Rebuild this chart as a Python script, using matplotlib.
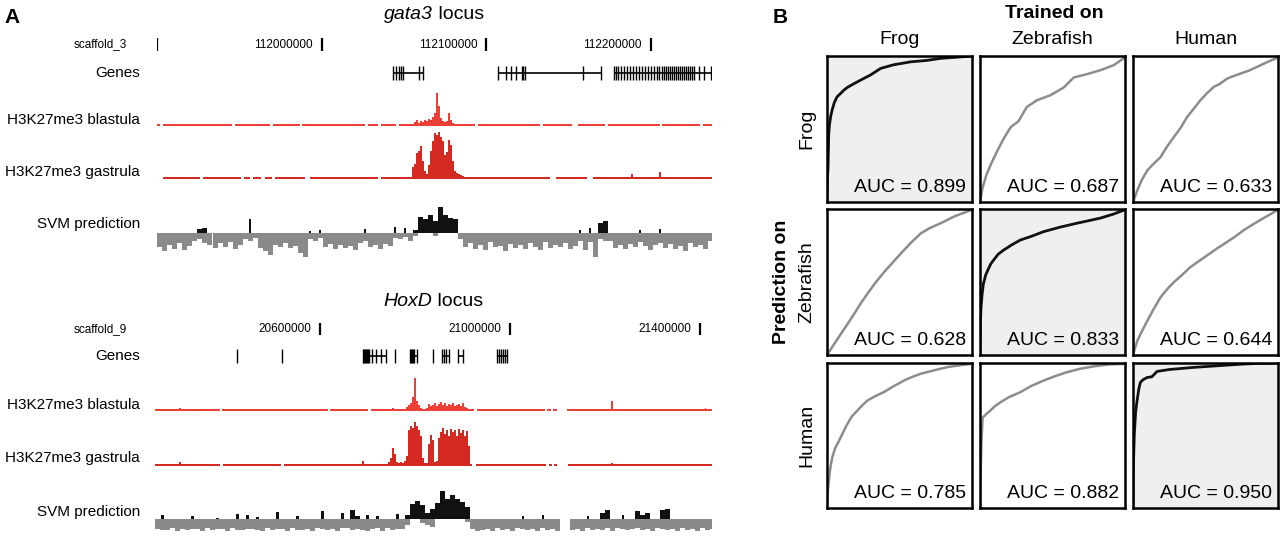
import numpy as np
import matplotlib
matplotlib.use('Agg')
import matplotlib.pyplot as plt

plt.rcParams['font.family'] = ['Liberation Sans', 'DejaVu Sans']

# ---------------- panel A data (positions in kb) ----------------
gata3_lim = (111899.7, 112237.1)
gata3_ticks = [111900, 112000, 112100, 112200]
gata3_tick_labels = ['', '112000000', '112100000', '112200000']

gata3_gene_starts = [112042.9, 112107.3, 112177.5]
gata3_gene_ends = [112061.2, 112169.8, 112236.5]
gata3_exons = [
    [112042.9, 112044.7, 112046.8, 112048.0, 112049.2, 112059.0, 112061.2],
    [112107.3, 112111.6, 112114.9, 112118.2, 112121.5, 112122.5, 112123.7,
     112158.7, 112169.8],
    [112177.5, 112178.8, 112180.0, 112181.8, 112183.6, 112185.4, 112187.3,
     112189.1, 112190.9, 112192.7, 112194.6, 112196.4, 112198.2, 112200.0,
     112201.9, 112203.7, 112204.9, 112206.7, 112207.9, 112209.2, 112210.4,
     112211.6, 112212.8, 112214.0, 112215.2, 112216.4, 112217.7, 112218.9,
     112220.1, 112221.3, 112222.5, 112223.7, 112225.0, 112226.2, 112229.2,
     112232.3, 112236.5],
]

gata3_blast_gaps = [(111901.5, 111903.3), (111945.3, 111947.1), (111968.4, 111970.2),
                    (111986.6, 111987.8), (112026.1, 112028.0), (112034.0, 112035.9),
                    (112045.0, 112046.8), (112093.0, 112094.8), (112132.5, 112134.4),
                    (112152.0, 112155.6), (112172.1, 112173.9), (112205.5, 112206.7),
                    (112229.8, 112231.6)]
gata3_blast_peak_start = 112053.5
gata3_blast_peak_step = 1.216
gata3_blast_peak = [2, 2, 4, 6, 3, 5, 4, 6, 5, 7, 6, 9, 13, 33, 20, 8, 5, 4, 5,
                    13, 6, 3, 2, 2, 2]
gata3_blast_spikes = []

gata3_gast_gaps = [(111899.7, 111903.3), (111925.8, 111927.6), (111950.8, 111952.6),
                   (111956.2, 111958.0), (111962.9, 111965.3), (111969.6, 111971.4),
                   (111989.7, 111992.7), (112034.0, 112035.9), (112138.6, 112142.3),
                   (112161.1, 112164.8)]
gata3_gast_peak_start = 112053.5
gata3_gast_peak_step = 1.216
gata3_gast_peak = [2, 12, 15, 26, 28, 33, 18, 8, 5, 14, 28, 38, 46, 44, 47, 42, 38,
                   24, 27, 39, 34, 18, 8, 6, 5, 4, 3, 2]
gata3_gast_spikes = [(112188.5, 5), (112205.5, 7)]

gata3_svm_start = 111900.0
gata3_svm_step = 3.04
gata3_svm_neg = [-14, -18, -12, -16, -10, -17, -13, -8, -6, -10,
                 -12, -15, -10, -14, -9, -16, -12, -6, -8, -5,
                 -15, -18, -22, -12, -14, -10, -15, -13, -20, -24,
                 -6, -8, -5, -14, -11, -16, -12, -15, -13, -17,
                 -10, -8, -14, -12, -16, -11, -13, -5, -6, -4,
                 -8, -3, 0, 0, 0, -3, 0, 0, 0, 0,
                 -6, -14, -10, -16, -12, -17, -9, -14, -13, -18,
                 -11, -15, -12, -16, -10, -14, -17, -9, -15, -12,
                 -14, -10, -16, -13, -8, -17, -9, -24, -6, -8,
                 -8, -15, -12, -16, -11, -14, -9, -13, -17, -12,
                 -10, -15, -11, -16, -13, -18, -10, -14, -12, -16,
                 -8]
gata3_svm_pos_bins = [8, 9, 18, 30, 32, 41, 47, 49, 51, 52, 53, 54, 55, 56, 57,
                      58, 59, 84, 86, 88, 89, 96, 100]
gata3_svm_pos = [4, 5, 14, 2, 3, 4, 6, 5, 3, 16, 14, 18, 12, 26, 18, 15, 14, 3, 5,
                 10, 12, 3, 4]

hoxd_lim = (20252.7, 21425.3)
hoxd_ticks = [20600, 21000, 21400]
hoxd_tick_labels = ['20600000', '21000000', '21400000']

hoxd_gene_starts = [20424.6, 20519.8, 20691.2, 20757.9, 20789.5, 20837.9, 20856.9,
                    20890.5, 20972.6]
hoxd_gene_ends = [20424.6, 20519.8, 20740.0, 20757.9, 20804.2, 20837.9, 20871.6,
                  20901.1, 20993.7]
hoxd_exons = [
    [20424.6],
    [20519.8],
    [20691.2, 20693.0, 20695.0, 20697.0, 20699.0, 20701.0, 20703.2, 20709.5,
     20719.0, 20728.5, 20740.0],
    [20757.9],
    [20789.5, 20791.6, 20793.7, 20795.8, 20797.9, 20804.2],
    [20837.9],
    [20856.9, 20861.0, 20865.3, 20871.6],
    [20890.5, 20901.1],
    [20972.6, 20976.8, 20981.1, 20985.3, 20989.5, 20993.7],
]

hoxd_blast_gaps = [(20389.5, 20393.8), (20616.9, 20621.1), (20701.1, 20707.4),
                   (20924.2, 20930.5), (21073.7, 21077.9), (21086.3, 21090.5),
                   (21098.9, 21120.0)]
hoxd_blast_peak_start = 20776.9
hoxd_blast_peak_step = 4.21
hoxd_blast_peak = [2, 4, 6, 8, 14, 33, 10, 6, 3, 2, 2, 3, 7, 5, 6, 8, 5, 7, 9, 6,
                   8, 5, 7, 6, 8, 5, 6, 7, 5, 8, 4, 3, 2, 2]
hoxd_blast_spikes = [(20305.5, 3), (20753.7, 3), (21214.7, 10), (21412.0, 3)]

hoxd_gast_gaps = [(20389.5, 20395.9), (20517.9, 20524.3), (20920.0, 20928.4),
                  (21075.8, 21082.1), (21088.4, 21092.6), (21098.9, 21122.1)]
hoxd_gast_peak_start = 20739.0
hoxd_gast_peak_step = 4.21
hoxd_gast_peak = [2, 4, 8, 18, 12, 4, 3, 4, 3, 5, 10, 36, 40, 38, 44, 40, 36, 30, 8,
                  3, 3, 22, 31, 26, 4, 5, 28, 34, 38, 32, 36, 30, 37, 34, 36, 30,
                  37, 33, 36, 30, 35, 20, 2]
hoxd_gast_spikes = [(20305.5, 4), (20690.0, 5), (21214.7, 3)]

hoxd_svm_start = 20252.7
hoxd_svm_step = 10.53
nan = np.nan
hoxd_svm_neg = [-10, -11, -11, -9, -12, -10, -11, -10, -10, -12,
                -9, -11, -10, -10, -12, -9, -11, -11, -10, -10,
                -11, -12, -9, -11, -10, -10, -12, -9, -11, -11,
                -10, -12, -9, -10, -11, -10, -12, -9, -9, -11,
                -10, -11, -12, -10, -9, -12, -9, -11, -10, -10,
                -6, 0, 0, -4, -6, -8, 0, 0, 0, 0,
                0, 0, -3, -10, -12, -11, -10, -12, -9, -11,
                -10, -12, -9, -10, -11, -10, -12, -9, -11, -10,
                -12, nan, nan, -11, -10, -12, -9, -11, -10, -11,
                -9, -12, -9, -10, -11, -10, -9, -11, -10, -12,
                -9, -10, -11, -10, -12, -9, -11, -10, -12, -9,
                -11, -10]
hoxd_svm_pos_bins = [1, 7, 12, 16, 18, 20, 24, 28, 33, 37, 39, 40, 42, 44, 48, 50,
                     51, 52, 53, 54, 55, 56, 57, 58, 59, 60, 61, 62, 73, 77, 86,
                     89, 90, 93, 96, 97, 98, 101, 102]
hoxd_svm_pos = [4, 3, 1, 5, 4, 2, 7, 3, 8, 6, 9, 3, 4, 3, 5, 4, 15, 18, 14, 6, 10,
                16, 28, 20, 24, 20, 17, 12, 3, 4, 3, 6, 9, 4, 8, 4, 6, 9, 10]

# ---------------- panel B data ----------------
species = ['Frog', 'Zebrafish', 'Human']
auc = [[0.899, 0.687, 0.633],
       [0.628, 0.833, 0.644],
       [0.785, 0.882, 0.950]]
# rows: predicted on, cols: trained on
roc_fpr = [
    [[0, .003, .007, .012, .018, .026, .035, .05, .069, .09, .115, .139, .185, .23,
      .30, .37, .46, .577, .69, .785, .9, 1],
     [0, .018, .046, .081, .12, .162, .212, .266, .323, .393, .485, .577, .647,
      .739, .831, .924, 1],
     [0, .028, .06, .097, .14, .189, .235, .281, .33, .373, .42, .465, .51, .558,
      .6, .65, .7, .742, .8, .857, .93, 1]],
    [[0, .046, .092, .14, .185, .23, .277, .33, .393, .45, .508, .58, .647, .71,
      .785, .88, 1],
     [0, .002, .007, .015, .023, .04, .058, .075, .092, .125, .162, .22, .277,
      .36, .439, .55, .67, .75, .831, .92, 1],
     [0, .028, .06, .097, .14, .189, .235, .281, .34, .396, .45, .512, .58, .65,
      .71, .765, .82, .88, .94, 1]],
    [[0, .004, .012, .022, .035, .055, .081, .11, .139, .17, .208, .24, .277,
      .33, .393, .46, .531, .59, .647, .74, .831, .92, 1],
     [0, .002, .005, .01, .018, .04, .069, .1, .139, .2, .277, .35, .439, .52,
      .6, .69, .785, .89, 1],
     [0, .003, .009, .018, .028, .04, .051, .07, .097, .13, .166, .25, .33, .42,
      .6, .765, .88, 1]],
]
roc_tpr = [
    [[0, .15, .237, .467, .536, .59, .628, .68, .72, .74, .765, .784, .81, .834,
      .87, .915, .94, .96, .97, .984, .992, 1],
     [0, .099, .191, .271, .352, .432, .513, .554, .651, .697, .731, .784, .853,
      .876, .903, .938, .99],
     [0, .076, .15, .214, .26, .306, .38, .444, .51, .582, .64, .697, .745, .789,
      .81, .846, .865, .88, .9, .926, .96, .99]],
    [[0, .07, .139, .21, .278, .35, .417, .49, .567, .63, .694, .77, .833, .87,
      .903, .95, .995],
     [0, .2, .324, .42, .486, .55, .59, .625, .648, .69, .718, .755, .787, .815,
      .845, .875, .903, .92, .938, .965, .995],
     [0, .093, .16, .231, .31, .394, .45, .498, .55, .602, .64, .683, .73, .775,
      .815, .856, .89, .926, .96, .995]],
    [[0, .1, .181, .27, .344, .41, .46, .52, .577, .63, .67, .705, .74, .77, .8,
      .84, .879, .905, .926, .95, .972, .985, .995],
     [0, .15, .274, .45, .623, .645, .67, .7, .728, .765, .798, .84, .879, .91,
      .937, .96, .977, .99, .995],
     [0, .3, .507, .66, .74, .82, .867, .885, .9, .905, .942, .955, .962, .97,
      .982, .993, .998, 1]],
]

W, H = 1280, 546
fig = plt.figure(figsize=(W / 100, H / 100), dpi=100)


def px_axes(x0, y0, x1, y1):
    return fig.add_axes([x0 / W, 1 - y1 / H, (x1 - x0) / W, (y1 - y0) / H])


def ftext(x, y, s, **kw):
    return fig.text(x / W, 1 - y / H, s, **kw)


def title_text(xc, y, italic, rest, fs):
    # italic gene name followed by plain text, centred as one string
    r = fig.canvas.get_renderer()
    t1 = ftext(0, y, italic, fontsize=fs, style='italic', va='baseline')
    t2 = ftext(0, y, rest, fontsize=fs, va='baseline')
    w1 = t1.get_window_extent(r).width
    w2 = t2.get_window_extent(r).width
    x0 = xc - (w1 + w2) / 2
    t1.set_x(x0 / W)
    t2.set_x((x0 + w1) / W)


def covered(lo, hi, gaps):
    segs = []
    cur = lo
    for a, b in sorted(gaps):
        if a > cur:
            segs.append((cur, a - cur))
        cur = max(cur, b)
    if cur < hi:
        segs.append((cur, hi - cur))
    return segs


def ruler(ax, lim, ticks, labels, fs):
    ax.vlines(ticks, 0, 1, color='black', lw=1.6)
    for t, lab in zip(ticks, labels):
        if lab:
            ax.annotate(lab, (t, 0.5), xytext=(-9, 0), textcoords='offset pixels',
                        ha='right', va='center', fontsize=fs)
    ax.set_xlim(lim)
    ax.set_ylim(0, 1)
    ax.axis('off')


def gene_track(ax, lim, starts, ends, exons, lw):
    ax.hlines([0] * len(starts), starts, ends, color='black', lw=1.2)
    for ex in exons:
        ax.vlines(ex, -1, 1, color='black', lw=lw)
    ax.set_xlim(lim)
    ax.set_ylim(-1.1, 1.1)
    ax.axis('off')


def signal_track(ax, lim, gaps, pk_start, pk_step, pk_vals, spikes, color, top):
    ax.broken_barh(covered(lim[0], lim[1], gaps), (0, 2.0), facecolors=color, lw=0)
    xs = pk_start + pk_step * np.arange(len(pk_vals))
    ax.bar(xs, pk_vals, width=pk_step, align='edge', color=color, lw=0)
    if spikes:
        ax.bar([s[0] for s in spikes], [s[1] for s in spikes], width=pk_step * 0.8,
               color=color, lw=0)
    ax.set_xlim(lim)
    ax.set_ylim(0, top)
    ax.axis('off')


def svm_track(ax, lim, start, step, neg, pos_bins, pos, lo, hi):
    neg = np.array(neg, dtype=float)
    xs = start + step * np.arange(len(neg))
    ok = ~np.isnan(neg)
    ax.bar(xs[ok], neg[ok], width=step, align='edge', color='#8a8a8a', lw=0)
    pb = set(pos_bins)
    for b, h in zip(pos_bins, pos):
        lone = (b - 1 not in pb) and (b + 1 not in pb)
        w = step * 0.45 if lone else step
        ax.bar(start + step * (b + 0.5), h, width=w, color='#111111', lw=0)
    ax.set_xlim(lim)
    ax.set_ylim(lo, hi)
    ax.axis('off')


blast_red = '#ec4036'
gast_red = '#d42a22'

# ---- gata3 locus ----
ftext(4, 23, 'A', fontsize=15, fontweight='bold', va='baseline')
title_text(434, 19, 'gata3', ' locus', 14)
ftext(127, 44, 'scaffold_3', fontsize=8.5, ha='right', va='center')
ruler(px_axes(157, 38, 712, 51), gata3_lim, gata3_ticks, gata3_tick_labels, 8.5)
ftext(140, 73, 'Genes', fontsize=11, ha='right', va='center')
gene_track(px_axes(157, 65, 712, 81), gata3_lim, gata3_gene_starts, gata3_gene_ends,
           gata3_exons, 1.0)
ftext(140, 120, 'H3K27me3 blastula', fontsize=11, ha='right', va='center')
signal_track(px_axes(157, 90, 712, 126), gata3_lim, gata3_blast_gaps,
             gata3_blast_peak_start, gata3_blast_peak_step, gata3_blast_peak,
             gata3_blast_spikes, blast_red, 36)
ftext(140, 172, 'H3K27me3 gastrula', fontsize=11, ha='right', va='center')
signal_track(px_axes(157, 128, 712, 179), gata3_lim, gata3_gast_gaps,
             gata3_gast_peak_start, gata3_gast_peak_step, gata3_gast_peak,
             gata3_gast_spikes, gast_red, 51)
ftext(140, 224, 'SVM prediction', fontsize=11, ha='right', va='center')
svm_track(px_axes(157, 205, 712, 260), gata3_lim, gata3_svm_start, gata3_svm_step,
          gata3_svm_neg, gata3_svm_pos_bins, gata3_svm_pos, -27, 28)

# ---- HoxD locus ----
title_text(433, 306, 'HoxD', ' locus', 14)
ftext(127, 329, 'scaffold_9', fontsize=8.5, ha='right', va='center')
ruler(px_axes(155, 323, 712, 335), hoxd_lim, hoxd_ticks, hoxd_tick_labels, 8.5)
ftext(140, 356, 'Genes', fontsize=11, ha='right', va='center')
gene_track(px_axes(155, 348, 712, 364), hoxd_lim, hoxd_gene_starts, hoxd_gene_ends,
           hoxd_exons, 1.0)
ftext(140, 405, 'H3K27me3 blastula', fontsize=11, ha='right', va='center')
signal_track(px_axes(155, 373, 712, 411), hoxd_lim, hoxd_blast_gaps,
             hoxd_blast_peak_start, hoxd_blast_peak_step, hoxd_blast_peak,
             hoxd_blast_spikes, blast_red, 38)
ftext(140, 458, 'H3K27me3 gastrula', fontsize=11, ha='right', va='center')
signal_track(px_axes(155, 417, 712, 466), hoxd_lim, hoxd_gast_gaps,
             hoxd_gast_peak_start, hoxd_gast_peak_step, hoxd_gast_peak,
             hoxd_gast_spikes, gast_red, 49)
ftext(140, 512, 'SVM prediction', fontsize=11, ha='right', va='center')
svm_track(px_axes(155, 486, 712, 535), hoxd_lim, hoxd_svm_start, hoxd_svm_step,
          hoxd_svm_neg, hoxd_svm_pos_bins, hoxd_svm_pos, -16, 33)

# ---------------- panel B ----------------
col_x = [(827, 972), (980, 1125), (1133, 1278)]
row_y = [(56, 202), (209, 355), (363, 508)]

ftext(773, 23, 'B', fontsize=15, fontweight='bold', va='baseline')
ftext(1054, 13, 'Trained on', fontsize=14, fontweight='bold', ha='center', va='center')
ftext(782, 282, 'Prediction on', fontsize=14, fontweight='bold', rotation=90,
      ha='center', va='center')

for j, name in enumerate(species):
    ftext(sum(col_x[j]) / 2, 40, name, fontsize=14, ha='center', va='center')
    ftext(807, sum(row_y[j]) / 2, name, fontsize=14, rotation=90, ha='center',
          va='center')

for i in range(3):
    for j in range(3):
        ax = px_axes(col_x[j][0], row_y[i][0], col_x[j][1], row_y[i][1])
        same = i == j
        ax.set_facecolor('#efefef' if same else 'white')
        ax.plot(roc_fpr[i][j], roc_tpr[i][j], color='#111111' if same else '#8c8c8c',
                lw=2.0 if same else 1.8)
        ax.set_xlim(0, 1)
        ax.set_ylim(0, 1)
        ax.set_xticks([])
        ax.set_yticks([])
        for sp in ax.spines.values():
            sp.set_linewidth(1.8)
            sp.set_color('black')
        ax.text(0.96, 0.04, 'AUC = %.3f' % auc[i][j], transform=ax.transAxes,
                ha='right', va='bottom', fontsize=14)

fig.savefig('out.png', dpi=100)
